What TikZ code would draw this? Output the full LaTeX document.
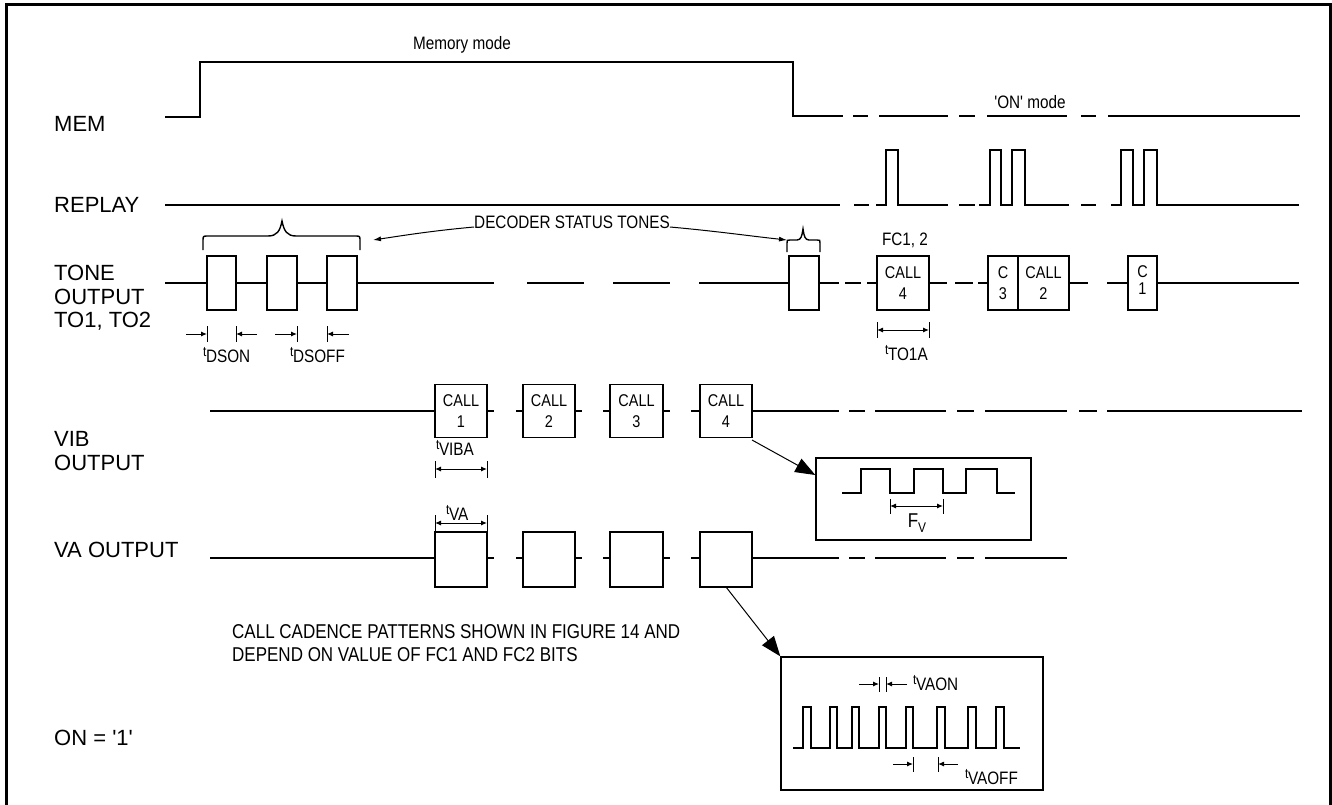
\documentclass[tikz,border=0pt]{standalone}
\usepackage{fontspec}
\setmainfont{Liberation Sans}[Ligatures=TeXOff]
\newfontfamily\nfont{Liberation Sans}[FakeStretch=0.85,Ligatures=TeXOff]
\usetikzlibrary{arrows.meta}
\newcommand\tlab[1]{\raisebox{6pt}{\fontsize{14}{14}\selectfont t}\kern-0.5pt#1}
\begin{document}
\begin{tikzpicture}[x=1pt,y=-1pt,
  sig/.style={line width=1.4pt},
  thinl/.style={line width=1pt},
  lab/.style={font=\fontsize{22}{23.5}\selectfont, inner sep=0, anchor=west, align=left},
  small/.style={font=\nfont\fontsize{18}{20}\selectfont, inner sep=0},
  bx/.style={draw, line width=1.4pt, inner sep=0, fill=white, font=\nfont\fontsize{17}{21}\selectfont, align=center},
  dimarr/.style={line width=1pt, -{Latex[length=6pt,width=5pt]}},
  dimdbl/.style={line width=1pt, {Latex[length=6pt,width=5pt]}-{Latex[length=6pt,width=5pt]}},
  tick/.style={line width=1pt},
  bigarr/.style={line width=1pt, -{Triangle[length=20pt,width=15pt]}}
]
\useasboundingbox (0,0) rectangle (1332,805);
\fill[white] (0,0) rectangle (1332,805);
\draw[line width=3pt] (6,812) -- (6,5) -- (1330,5) -- (1330,812);

% ---------- labels
\node[lab] (lmem) at (54,124) {MEM};
\node[lab] (lrep) at (54,205) {REPLAY};
\node[lab] (ltone) at (54,298) {TONE\\OUTPUT\\TO1, TO2};
\node[lab] (lvib) at (54,451) {VIB\\OUTPUT};
\node[lab] (lva) at (54,550) {VA OUTPUT};
\node[lab] (lon) at (54,738) {ON = '1'};

% ---------- MEM
\node[small] (memtxt) at (462,45) {Memory mode};
\node[small] (ontxt) at (1030,102) {'ON' mode};
\draw[sig] (165,117) -- (200,117) -- (200,62) -- (793,62) -- (793,116) -- (843,116);
\foreach \a/\b in {853/868, 879/948, 959/975, 987/1067, 1081/1096, 1108/1300}
  \draw[sig] (\a,116) -- (\b,116);

% ---------- REPLAY
\draw[sig] (165,205) -- (840,205);
\draw[sig] (854,205) -- (869,205);
\draw[sig] (876,205) -- (886,205) -- (886,150) -- (898,150) -- (898,205) -- (948,205);
\draw[sig] (959,205) -- (975,205);
\draw[sig] (979,205) -- (990,205) -- (990,150) -- (1001,150) -- (1001,205) -- (1012,205) -- (1012,150) -- (1025,150) -- (1025,205) -- (1069,205);
\draw[sig] (1081,205) -- (1096,205);
\draw[sig] (1111,205) -- (1121,205) -- (1121,150) -- (1133,150) -- (1133,205) -- (1144,205) -- (1144,150) -- (1157,150) -- (1157,205) -- (1299,205);

% ---------- TONE OUTPUT
\node[bx, minimum width=29pt, minimum height=54pt] (d1) at (221.5,283) {};
\node[bx, minimum width=30pt, minimum height=54pt] (d2) at (282,283) {};
\node[bx, minimum width=30pt, minimum height=54pt] (d3) at (342,283) {};
\node[bx, minimum width=30pt, minimum height=54pt] (d4) at (804,283) {};
\node[bx, minimum width=52pt, minimum height=54pt] (c4) at (903,283) {CALL\\4};
\node[bx, minimum width=30pt, minimum height=54pt] (c3) at (1003,283) {C\\3};
\node[bx, minimum width=51pt, minimum height=54pt] (c2) at (1043.5,283) {CALL\\2};
\node[bx, minimum width=29pt, minimum height=54pt] (c1) at (1142.5,283) {\raisebox{6pt}{\shortstack{C\\[3pt]1}}};
\coordinate (t0) at (165,283);
\draw[sig] (t0) -- (d1.west);
\draw[sig] (d1.east) -- (d2.west);
\draw[sig] (d2.east) -- (d3.west);
\draw[sig] (d3.east) -- (494,283);
\draw[sig] (527,283) -- (584,283);
\draw[sig] (613,283) -- (670,283);
\draw[sig] (699,283) -- (d4.west);
\draw[sig] (d4.east) -- (839,283);
\draw[sig] (845,283) -- (861,283);
\draw[sig] (867,283) -- (c4.west);
\draw[sig] (c4.east) -- (947,283);
\draw[sig] (955,283) -- (973,283);
\draw[sig] (978,283) -- (c3.west);
\draw[sig] (c2.east) -- (1088,283);
\draw[sig] (1107,283) -- (c1.west);
\draw[sig] (c1.east) -- (1299,283);
\node[small] (fc) at (905,240) {FC1, 2};

% braces and decoder status tones
\draw[sig] (203,250) -- (203,241) .. controls (203,236) .. (208,236) -- (268,236)
  .. controls (277,236) and (280,231) .. (282,221) .. controls (284,231) and (287,236) .. (296,236)
  -- (355,236) .. controls (360,236) .. (360,241) -- (360,250);
\draw[sig] (787,252) -- (787,243) .. controls (787,240) .. (790,240) -- (797,240)
  .. controls (801,240) and (802,236) .. (803,229) .. controls (804,236) and (805,240) .. (809,240)
  -- (817,240) .. controls (820,240) .. (820,243) -- (820,252);
\node[small] (dst) at (572,222) {DECODER STATUS TONES};
\draw[thinl, -{Latex[length=8pt,width=5pt]}] ([yshift=-5pt]dst.west) .. controls (430,231) and (400,236) .. (373,240);
\draw[thinl, -{Latex[length=8pt,width=5pt]}] ([yshift=-5pt]dst.east) .. controls (715,231) and (750,236) .. (787,240);

% t_DSON, t_DSOFF
\draw[tick] (207,326) -- (207,342);
\draw[tick] (236,326) -- (236,342);
\draw[dimarr] (186,334) -- (207,334);
\draw[dimarr] (257,334) -- (236,334);
\draw[tick] (297,326) -- (297,342);
\draw[tick] (327,326) -- (327,342);
\draw[dimarr] (275,334) -- (297,334);
\draw[dimarr] (349,334) -- (327,334);
\node[small, anchor=west] (tdson) at (203,355) {\tlab{DSON}};
\node[small, anchor=west] (tdsoff) at (290,355) {\tlab{DSOFF}};

% t_TO1A
\draw[tick] (877,322) -- (877,338);
\draw[tick] (929,322) -- (929,338);
\draw[dimdbl] (877,330) -- (929,330);
\node[small, anchor=west] (tto) at (885,353) {\tlab{TO1A}};

% ---------- VIB OUTPUT
\node[bx, minimum width=52pt, minimum height=53pt] (v1) at (461,411) {CALL\\1};
\node[bx, minimum width=52pt, minimum height=53pt] (v2) at (549,411) {CALL\\2};
\node[bx, minimum width=53pt, minimum height=53pt] (v3) at (636.5,411) {CALL\\3};
\node[bx, minimum width=52pt, minimum height=53pt] (v4) at (726,411) {CALL\\4};
\draw[sig] (210,411) -- (v1.west);
\draw[sig] (v1.east) -- (494,411);
\draw[sig] (516,411) -- (v2.west);
\draw[sig] (v2.east) -- (582,411);
\draw[sig] (603,411) -- (v3.west);
\draw[sig] (v3.east) -- (670,411);
\draw[sig] (691,411) -- (v4.west);
\draw[sig] (v4.east) -- (839,411);
\foreach \a/\b in {849/865, 875/946, 957/974, 985/1067, 1079/1097, 1107/1302}
  \draw[sig] (\a,411) -- (\b,411);

% t_VIBA
\node[small, anchor=west] (tviba) at (436,448) {\tlab{VIBA}};
\draw[tick] (435,461) -- (435,478);
\draw[tick] (487,461) -- (487,478);
\draw[dimdbl] (435,469) -- (487,469);

% t_VA
\node[small, anchor=west] (tva) at (446,513) {\tlab{VA}};
\draw[tick] (435,515) -- (435,531);
\draw[tick] (487,515) -- (487,531);
\draw[dimdbl] (435,523) -- (487,523);

% ---------- VA OUTPUT
\node[bx, minimum width=52pt, minimum height=55pt] (a1) at (461,559.5) {};
\node[bx, minimum width=52pt, minimum height=55pt] (a2) at (549,559.5) {};
\node[bx, minimum width=53pt, minimum height=55pt] (a3) at (636.5,559.5) {};
\node[bx, minimum width=52pt, minimum height=55pt] (a4) at (726,559.5) {};
\draw[sig] (210,558) -- (a1.west |- 0,558);
\draw[sig] (a1.east |- 0,558) -- (494,558);
\draw[sig] (516,558) -- (a2.west |- 0,558);
\draw[sig] (a2.east |- 0,558) -- (582,558);
\draw[sig] (603,558) -- (a3.west |- 0,558);
\draw[sig] (a3.east |- 0,558) -- (670,558);
\draw[sig] (691,558) -- (a4.west |- 0,558);
\draw[sig] (a4.east |- 0,558) -- (839,558);
\foreach \a/\b in {849/865, 875/946, 957/974, 985/1067}
  \draw[sig] (\a,558) -- (\b,558);

\node[small, anchor=west, align=left, font=\nfont\fontsize{20}{23}\selectfont] (cad) at (232,643)
  {CALL CADENCE PATTERNS SHOWN IN FIGURE 14 AND\\DEPEND ON VALUE OF FC1 AND FC2 BITS};

% ---------- VIB inset
\node[draw, line width=1.4pt, minimum width=215pt, minimum height=82pt, inner sep=0] (vin) at (923.5,499) {};
\draw[sig] (842,493) -- (861,493) -- (861,469) -- (890,469) -- (890,493) -- (914,493) -- (914,469)
  -- (943,469) -- (943,493) -- (966,493) -- (966,469) -- (997,469) -- (997,493) -- (1015,493);
\draw[tick] (890,499) -- (890,514);
\draw[tick] (943,499) -- (943,514);
\draw[dimdbl] (890,506) -- (943,506);
\node[small, font=\nfont\fontsize{20}{20}\selectfont] (fv) at (917,523) {F\raisebox{-5pt}{\fontsize{14}{14}\selectfont V}};
\draw[bigarr] (752,440) -- (vin.north west |- 0,475);

% ---------- VA inset
\node[draw, line width=1.4pt, minimum width=262pt, minimum height=133pt, inner sep=0] (vain) at (912,723.5) {};
\draw[sig] (793,748) -- (803,748) -- (803,707) -- (811,707) -- (811,748)
  -- (830,748) -- (830,707) -- (837,707) -- (837,748)
  -- (852,748) -- (852,707) -- (859,707) -- (859,748)
  -- (879,748) -- (879,707) -- (886,707) -- (886,748)
  -- (906,748) -- (906,707) -- (913,707) -- (913,748)
  -- (937,748) -- (937,707) -- (945,707) -- (945,748)
  -- (968,748) -- (968,707) -- (976,707) -- (976,748)
  -- (996,748) -- (996,707) -- (1004,707) -- (1004,748) -- (1020,748);
\draw[tick] (879,677) -- (879,692);
\draw[tick] (886,677) -- (886,692);
\draw[dimarr] (859,684) -- (879,684);
\draw[dimarr] (907,684) -- (886,684);
\node[small, anchor=west] (tvaon) at (913,683) {\tlab{VAON}};
\draw[tick] (913,757) -- (913,772);
\draw[tick] (938,757) -- (938,772);
\draw[dimarr] (893,764) -- (913,764);
\draw[dimarr] (958,764) -- (938,764);
\node[small, anchor=west] (tvaoff) at (965,777) {\tlab{VAOFF}};
\draw[bigarr] (726,587) -- (vain.north west);
\end{tikzpicture}
\end{document}
